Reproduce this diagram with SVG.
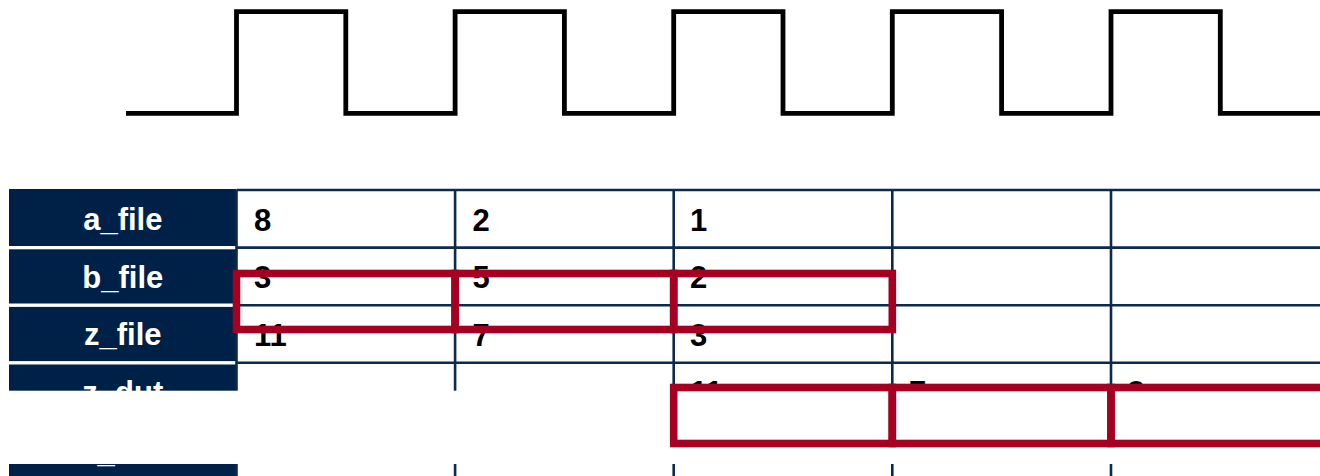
<svg xmlns="http://www.w3.org/2000/svg" width="1320" height="476" viewBox="0 0 1320 476">
<style>
.clk{fill:none;stroke:#000;stroke-width:4.8;stroke-linejoin:miter;stroke-linecap:butt}
.grid{stroke:#0b2a4e;stroke-width:2.6;fill:none}
.lbl{fill:#002147}
.lt{font-family:"Liberation Sans",Arial,sans-serif;font-weight:bold;font-size:31px;fill:#fff;text-anchor:middle}
.v{font-family:"Liberation Sans",Arial,sans-serif;font-weight:bold;font-size:31px;fill:#000}
.hl{fill:none;stroke:#a50021;stroke-width:7.6}
</style>
<rect width="1320" height="476" fill="#fff"/>
<g id="clock">
<path class="clk" d="M126,113.3 H236.5 V11.7 H345.8 V113.3 H455.1 V11.7 H564.4 V113.3 H673.7 V11.7 H783 V113.3 H892.3 V11.7 H1001.6 V113.3 H1111 V11.7 H1220.3 V113.3 H1320"/>
</g>
<g id="labels">
<rect class="lbl" x="9" y="189" width="227.5" height="57"/>
<rect class="lbl" x="9" y="249.3" width="227.5" height="54.2"/>
<rect class="lbl" x="9" y="306.9" width="227.5" height="54.2"/>
<rect class="lbl" x="9" y="364.5" width="227.5" height="54.2"/>
<rect class="lbl" x="9" y="422.1" width="227.5" height="54.2"/>
<text class="lt" x="122.8" y="230">a_file</text>
<text class="lt" x="122.8" y="287.6">b_file</text>
<text class="lt" x="122.8" y="345.2">z_file</text>
<text class="lt" x="122.8" y="402.8">z_dut</text>
</g>
<g id="grid">
<path class="grid" d="M236.5,190 H1320 M236.5,247.6 H1320 M236.5,305.2 H1320 M236.5,362.8 H1320 M236.5,420.4 H1320"/>
<path class="grid" d="M236.5,190 V476 M455.1,190 V476 M673.7,190 V476 M892.3,190 V476 M1111,190 V476"/>
</g>
<g id="values">
<text class="v" x="254" y="230.5">8</text>
<text class="v" x="472.5" y="230.5">2</text>
<text class="v" x="690" y="230.5">1</text>
<text class="v" x="254" y="288.1">3</text>
<text class="v" x="472.5" y="288.1">5</text>
<text class="v" x="690" y="288.1">2</text>
<text class="v" x="254" y="345.7">11</text>
<text class="v" x="472.5" y="345.7">7</text>
<text class="v" x="690" y="345.7">3</text>
<text class="v" x="690" y="403.3">11</text>
<text class="v" x="909" y="403.3">7</text>
<text class="v" x="1127.5" y="403.3">3</text>
</g>
<g id="highlight-top">
<rect class="hl" x="236.5" y="273.5" width="218.6" height="56"/>
<rect class="hl" x="455.1" y="273.5" width="218.6" height="56"/>
<rect class="hl" x="673.7" y="273.5" width="218.6" height="56"/>
</g>
<rect id="band" x="0" y="390.7" width="1320" height="73.3" fill="#fff"/>
<g id="row5">
<text class="lt" x="97.5" y="461.8" style="text-anchor:start">_</text>
</g>
<g id="highlight-bottom">
<rect class="hl" x="673.7" y="387.5" width="218.6" height="56"/>
<rect class="hl" x="892.3" y="387.5" width="218.7" height="56"/>
<rect class="hl" x="1111" y="387.5" width="218.6" height="56"/>
</g>
</svg>
